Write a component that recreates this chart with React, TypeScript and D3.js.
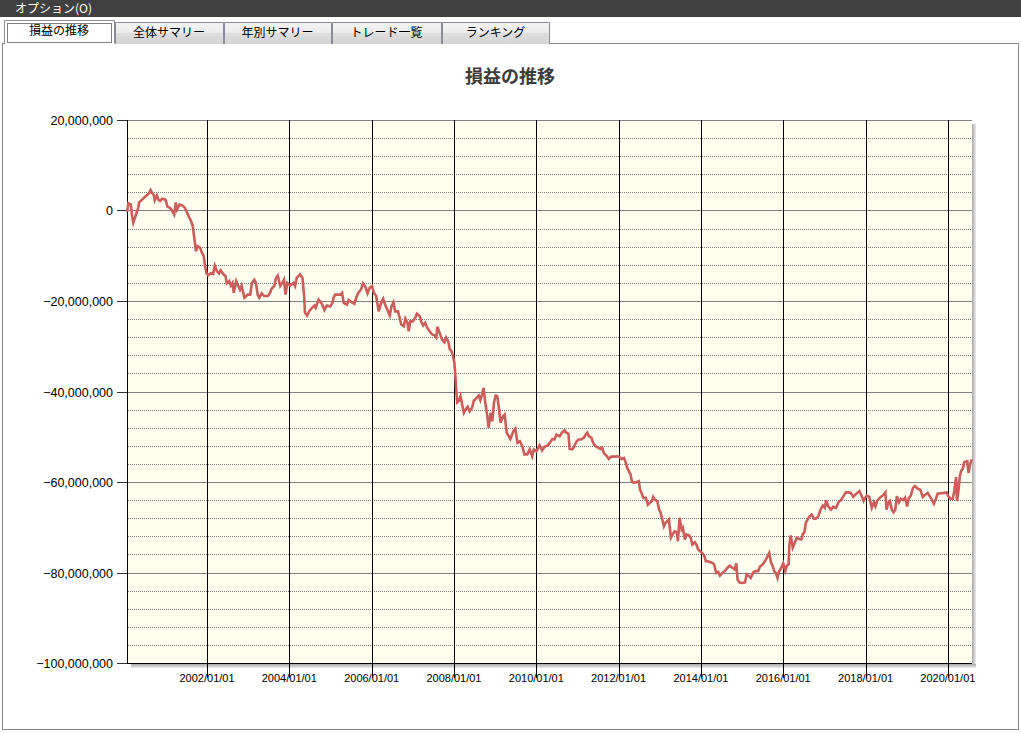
import * as d3 from 'd3';

const menuLabel = 'オプション(O)';
const tabLabels = ['損益の推移', '全体サマリー', '年別サマリー', 'トレード一覧', 'ランキング'];
const chartTitle = '損益の推移';

// y axis: yen, major every 20M, dotted minor every 4M
const yDomain = [-100000000, 20000000];
const yMajorStep = 20000000;
const yMinorStep = 4000000;

// x axis range in fractional years
const xFrom = 2000.057;
const xTo = 2020.585;

// [fractional year, cumulative P/L in millions of yen]
const pnl2000to2003: [number, number][] = [
  [2000.06, -0.3], [2000.09, 1.6], [2000.15, 1.3], [2000.18, -1.3], [2000.21, -2.7], [2000.25, -1.6], [2000.29, -0.5], [2000.33, 0.6], [2000.35, 1.8], [2000.41, 2.3],
  [2000.47, 2.8], [2000.53, 3.3], [2000.59, 3.8], [2000.63, 4.5], [2000.67, 3.8], [2000.71, 3.3], [2000.73, 2.3], [2000.78, 3.3], [2000.82, 2.4], [2000.86, 2.1],
  [2000.91, 2.6], [2000.99, 2.4], [2001.04, 0.8], [2001.1, 0.6], [2001.16, -0.2], [2001.2, -0.9], [2001.24, 1.8], [2001.27, 0.2], [2001.33, 1.3], [2001.4, 1.1],
  [2001.46, 0.6], [2001.51, -0.4], [2001.56, -1.4], [2001.6, -2.1], [2001.65, -3.3], [2001.68, -5.3], [2001.71, -7.5], [2001.73, -9.0], [2001.77, -7.9], [2001.83, -8.2],
  [2001.87, -9.2], [2001.92, -10.1], [2001.95, -12.3], [2001.99, -13.9], [2002.03, -14.3], [2002.1, -13.8], [2002.15, -14.0], [2002.19, -12.2], [2002.24, -13.4], [2002.29, -13.9],
  [2002.33, -13.2], [2002.4, -14.1], [2002.45, -14.5], [2002.48, -16.1], [2002.54, -15.6], [2002.58, -16.6], [2002.62, -16.0], [2002.65, -18.2], [2002.71, -15.6], [2002.76, -16.7],
  [2002.8, -17.5], [2002.84, -16.6], [2002.88, -18.2], [2002.91, -19.3], [2002.99, -18.6], [2003.05, -18.6], [2003.09, -16.1], [2003.15, -15.3], [2003.19, -16.0], [2003.23, -18.6],
  [2003.27, -19.3], [2003.33, -18.3], [2003.39, -18.9], [2003.48, -18.9], [2003.53, -18.2], [2003.57, -17.3], [2003.64, -16.6], [2003.67, -15.1], [2003.72, -14.4], [2003.78, -16.7],
  [2003.83, -16.0], [2003.87, -15.3], [2003.91, -18.6], [2003.95, -16.0],
];

const pnl2004to2007: [number, number][] = [
  [2004.02, -16.6], [2004.1, -16.0], [2004.14, -16.7], [2004.18, -14.9], [2004.26, -14.1], [2004.32, -14.9], [2004.36, -18.9], [2004.38, -22.6], [2004.43, -23.2], [2004.48, -22.3],
  [2004.55, -21.5], [2004.61, -21.0], [2004.64, -21.5], [2004.71, -19.7], [2004.79, -20.6], [2004.85, -22.0], [2004.91, -21.0], [2004.99, -21.2], [2005.05, -20.4], [2005.07, -19.3],
  [2005.11, -18.6], [2005.24, -18.6], [2005.28, -18.2], [2005.32, -20.4], [2005.4, -20.8], [2005.44, -19.8], [2005.52, -20.3], [2005.58, -20.6], [2005.63, -19.1], [2005.68, -18.1],
  [2005.74, -17.5], [2005.79, -16.1], [2005.84, -16.7], [2005.9, -18.3], [2005.95, -17.1], [2006.01, -16.7], [2006.05, -18.1], [2006.11, -18.9], [2006.17, -22.3], [2006.23, -20.4],
  [2006.28, -19.5], [2006.31, -20.4], [2006.37, -21.7], [2006.44, -23.2], [2006.48, -21.2], [2006.53, -20.3], [2006.57, -22.3], [2006.64, -22.3], [2006.68, -23.7], [2006.72, -25.2],
  [2006.78, -25.6], [2006.82, -23.9], [2006.87, -24.8], [2006.9, -26.7], [2006.94, -24.5], [2007.0, -24.5], [2007.06, -23.7], [2007.1, -22.8], [2007.17, -23.4], [2007.2, -24.5],
  [2007.25, -25.4], [2007.3, -24.8], [2007.35, -25.9], [2007.41, -26.7], [2007.47, -27.4], [2007.53, -27.6], [2007.57, -28.1], [2007.6, -25.7], [2007.65, -27.0], [2007.71, -28.5],
  [2007.77, -29.1], [2007.81, -28.1], [2007.86, -28.9], [2007.9, -30.7], [2007.94, -31.1], [2007.98, -32.2],
];

const pnl2008to2011: [number, number][] = [
  [2008.01, -33.7], [2008.03, -35.9], [2008.06, -40.3], [2008.08, -42.4], [2008.12, -42.1], [2008.16, -41.0], [2008.2, -42.9], [2008.24, -44.7], [2008.28, -44.0], [2008.33, -43.4],
  [2008.38, -44.4], [2008.44, -43.6], [2008.48, -42.1], [2008.55, -41.4], [2008.6, -40.9], [2008.64, -41.9], [2008.68, -40.7], [2008.72, -39.2], [2008.76, -42.5], [2008.81, -45.5],
  [2008.84, -48.0], [2008.89, -44.7], [2008.93, -46.6], [2008.97, -42.5], [2009.01, -40.9], [2009.05, -41.0], [2009.09, -43.6], [2009.13, -46.9], [2009.19, -45.5], [2009.23, -45.1],
  [2009.28, -49.1], [2009.33, -49.9], [2009.37, -50.5], [2009.44, -48.8], [2009.49, -48.2], [2009.54, -51.3], [2009.6, -51.0], [2009.66, -52.1], [2009.71, -53.9], [2009.78, -53.9],
  [2009.84, -52.8], [2009.9, -54.3], [2009.94, -52.8], [2010.0, -53.2], [2010.08, -51.9], [2010.14, -53.0], [2010.2, -52.2], [2010.28, -51.9], [2010.33, -51.3], [2010.39, -50.5],
  [2010.44, -50.6], [2010.49, -49.5], [2010.57, -49.9], [2010.63, -49.0], [2010.69, -48.6], [2010.73, -49.1], [2010.78, -49.3], [2010.81, -52.7], [2010.87, -52.8], [2010.91, -52.4],
  [2010.98, -51.0], [2011.03, -50.6], [2011.09, -50.6], [2011.16, -50.2], [2011.2, -49.5], [2011.24, -49.1], [2011.28, -49.9], [2011.34, -50.2], [2011.38, -51.3], [2011.44, -52.1],
  [2011.5, -52.4], [2011.56, -52.7], [2011.6, -52.4], [2011.64, -53.6], [2011.71, -54.2], [2011.76, -54.9], [2011.82, -54.4], [2011.89, -54.4], [2011.95, -54.3],
];

const pnl2012to2015: [number, number][] = [
  [2012.01, -54.4], [2012.07, -54.9], [2012.13, -54.7], [2012.17, -55.6], [2012.21, -56.9], [2012.25, -57.6], [2012.29, -58.3], [2012.32, -59.8], [2012.37, -60.2], [2012.44, -60.0],
  [2012.49, -59.8], [2012.52, -61.7], [2012.56, -62.5], [2012.6, -63.5], [2012.66, -63.5], [2012.71, -65.0], [2012.76, -64.6], [2012.81, -64.2], [2012.84, -63.3], [2012.88, -63.9],
  [2012.94, -64.2], [2012.98, -66.1], [2013.02, -66.8], [2013.06, -68.3], [2013.1, -69.8], [2013.14, -69.0], [2013.18, -68.7], [2013.22, -68.3], [2013.27, -72.3], [2013.31, -71.6],
  [2013.36, -70.9], [2013.41, -71.1], [2013.44, -73.1], [2013.48, -67.9], [2013.53, -70.5], [2013.56, -70.1], [2013.61, -72.7], [2013.65, -71.6], [2013.71, -71.8], [2013.75, -72.3],
  [2013.79, -73.8], [2013.85, -73.3], [2013.9, -74.0], [2013.93, -74.9], [2013.98, -75.3], [2014.03, -75.7], [2014.08, -76.3], [2014.12, -77.5], [2014.16, -77.5], [2014.22, -77.7],
  [2014.28, -77.9], [2014.32, -78.2], [2014.37, -80.1], [2014.42, -79.9], [2014.46, -80.7], [2014.52, -80.1], [2014.58, -79.7], [2014.64, -79.0], [2014.7, -78.5], [2014.77, -79.0],
  [2014.82, -79.3], [2014.86, -78.0], [2014.89, -81.6], [2014.94, -82.2], [2015.01, -82.3], [2015.07, -82.2], [2015.11, -80.4], [2015.17, -80.8], [2015.21, -81.2], [2015.28, -79.9],
  [2015.33, -79.7], [2015.39, -79.7], [2015.44, -78.6], [2015.47, -78.5], [2015.52, -78.0], [2015.58, -77.1], [2015.62, -76.4], [2015.66, -75.7], [2015.7, -77.7], [2015.74, -78.5],
  [2015.78, -79.7], [2015.82, -80.1], [2015.86, -81.2], [2015.9, -79.7], [2015.94, -79.2],
];

const pnl2016to2020: [number, number][] = [
  [2016.0, -78.0], [2016.05, -79.7], [2016.09, -78.5], [2016.13, -78.2], [2016.15, -73.8], [2016.18, -71.8], [2016.23, -74.5], [2016.28, -73.4], [2016.33, -72.3], [2016.39, -72.6],
  [2016.44, -72.7], [2016.48, -71.4], [2016.51, -71.2], [2016.55, -69.0], [2016.59, -68.3], [2016.63, -67.7], [2016.69, -67.2], [2016.74, -68.1], [2016.79, -68.1], [2016.85, -67.6],
  [2016.9, -66.2], [2016.96, -65.2], [2017.01, -65.7], [2017.04, -64.0], [2017.09, -65.4], [2017.16, -66.1], [2017.21, -65.5], [2017.28, -65.7], [2017.34, -64.5], [2017.4, -64.0],
  [2017.47, -63.0], [2017.52, -62.3], [2017.58, -62.3], [2017.64, -62.4], [2017.7, -63.3], [2017.75, -62.8], [2017.81, -62.3], [2017.85, -62.0], [2017.9, -63.0], [2017.95, -64.2],
  [2017.99, -63.5], [2018.03, -63.0], [2018.09, -63.3], [2018.15, -65.7], [2018.2, -64.5], [2018.24, -65.4], [2018.28, -64.2], [2018.33, -63.7], [2018.37, -63.3], [2018.44, -62.8],
  [2018.48, -62.3], [2018.51, -66.1], [2018.55, -64.6], [2018.59, -64.2], [2018.64, -66.2], [2018.68, -66.7], [2018.72, -66.2], [2018.76, -63.1], [2018.81, -64.5], [2018.86, -63.7],
  [2018.92, -64.0], [2018.96, -63.5], [2019.01, -65.4], [2019.05, -63.5], [2019.1, -63.0], [2019.15, -61.3], [2019.2, -60.9], [2019.27, -61.5], [2019.33, -61.7], [2019.39, -63.3],
  [2019.45, -62.8], [2019.51, -62.4], [2019.55, -63.0], [2019.61, -63.9], [2019.66, -64.8], [2019.71, -63.7], [2019.75, -62.6], [2019.83, -62.5], [2019.91, -62.4], [2019.97, -62.3],
  [2020.01, -63.1], [2020.06, -63.7], [2020.12, -63.7], [2020.16, -61.7], [2020.2, -58.9], [2020.22, -64.2], [2020.26, -61.7], [2020.29, -58.7], [2020.32, -57.6], [2020.36, -57.1],
  [2020.4, -55.6], [2020.47, -55.4], [2020.5, -58.0], [2020.54, -56.1], [2020.58, -55.0],
];

const pnlSeries = [...pnl2000to2003, ...pnl2004to2007, ...pnl2008to2011, ...pnl2012to2015, ...pnl2016to2020];

// fractional year -> Date
function yearToDate(t: number) {
  const y = Math.floor(t);
  const start = new Date(y, 0, 1).getTime();
  const end = new Date(y + 1, 0, 1).getTime();
  return new Date(start + (t - y) * (end - start));
}

const uiFont = '"Noto Sans CJK JP", "Noto Sans", sans-serif';
const numFont = '"Liberation Sans", Arial, sans-serif';

export default function App() {
  const W = 1021;
  const H = 734;
  const plot = { left: 127, right: 972, top: 120, bottom: 663 };

  const x = d3
    .scaleTime()
    .domain([yearToDate(xFrom), yearToDate(xTo)])
    .range([plot.left, plot.right]);

  const y = d3.scaleLinear().domain(yDomain).range([plot.bottom, plot.top]);

  const px = (v: number) => Math.round(v) + 0.5;

  const majorTicks = d3.range(yDomain[0], yDomain[1] + 1, yMajorStep);
  const minorTicks = d3
    .range(yDomain[0], yDomain[1] + 1, yMinorStep)
    .filter(v => v % yMajorStep !== 0);
  const xTicks = x.ticks(d3.timeYear.every(2)!).filter(d => d > yearToDate(xFrom));
  const fmtX = d3.timeFormat('%Y/%m/%d');
  const fmtY = d3.format(',');

  const line = d3
    .line<[number, number]>()
    .x(d => x(yearToDate(d[0])))
    .y(d => y(d[1] * 1000000));

  // tab edges
  const tabX = [4, 115, 224, 332, 442, 550];

  return (
    <svg
      width={W}
      height={H}
      style={{ position: 'absolute', left: 0, top: 0, display: 'block', background: '#fff' }}
    >
      <defs>
        <linearGradient id="tabGrad" x1="0" y1="0" x2="0" y2="1">
          <stop offset="0" stopColor="#f4f4f4" />
          <stop offset="0.5" stopColor="#ebebeb" />
          <stop offset="0.5" stopColor="#dedede" />
          <stop offset="1" stopColor="#d4d4d4" />
        </linearGradient>
        <linearGradient id="shadowR" x1="0" y1="0" x2="1" y2="0">
          <stop offset="0" stopColor="#a8a8a8" />
          <stop offset="1" stopColor="#ececec" />
        </linearGradient>
        <linearGradient id="shadowB" x1="0" y1="0" x2="0" y2="1">
          <stop offset="0" stopColor="#a8a8a8" />
          <stop offset="1" stopColor="#ececec" />
        </linearGradient>
      </defs>

      {/* menu bar */}
      <rect x={0} y={0} width={W} height={17} fill="#404040" />
      <text x={15} y={13} fill="#ffffff" fontSize={12} fontFamily={uiFont}>
        {menuLabel}
      </text>

      {/* panel */}
      <rect x={2.5} y={43.5} width={1016} height={686} fill="#fff" stroke="#828790" />

      {/* tabs */}
      {tabLabels.map((label, i) => {
        const x0 = tabX[i];
        const x1 = tabX[i + 1] - 1;
        const selected = i === 0;
        const top = selected ? 20 : 22;
        return (
          <g key={label}>
            <path
              d={`M${x0 + 0.5},44 V${top + 0.5} H${x1 + 0.5} V44`}
              fill={selected ? '#ffffff' : 'url(#tabGrad)'}
              stroke="#898c95"
            />
            {selected && (
              <>
                <rect x={x0 + 1} y={43} width={x1 - x0} height={2} fill="#fff" />
                <rect
                  x={x0 + 3.5}
                  y={top + 3.5}
                  width={x1 - x0 - 6}
                  height={19}
                  fill="none"
                  stroke="#000"
                  strokeDasharray="1 1"
                />
              </>
            )}
            <text
              x={(x0 + x1) / 2}
              y={top + 15}
              textAnchor="middle"
              fontSize={12}
              fontFamily={uiFont}
              fill="#000"
            >
              {label}
            </text>
          </g>
        );
      })}

      {/* title */}
      <text
        x={510}
        y={83}
        textAnchor="middle"
        fontSize={18}
        fontWeight="bold"
        fontFamily={uiFont}
        fill="#3c3c3c"
      >
        {chartTitle}
      </text>

      {/* plot shadow */}
      <rect x={plot.right} y={plot.top + 4} width={4} height={plot.bottom - plot.top} fill="url(#shadowR)" />
      <rect x={plot.left + 4} y={plot.bottom + 1} width={plot.right - plot.left} height={4} fill="url(#shadowB)" />

      {/* plot background */}
      <rect
        x={plot.left}
        y={plot.top}
        width={plot.right - plot.left}
        height={plot.bottom - plot.top}
        fill="#fffff0"
      />

      {/* minor grid */}
      {minorTicks.map(v => (
        <line
          key={`mi${v}`}
          x1={plot.left + 1}
          x2={plot.right - 1}
          y1={px(y(v))}
          y2={px(y(v))}
          stroke="#7a7a7a"
          strokeDasharray="1 1"
        />
      ))}

      {/* major grid */}
      {majorTicks.map(v => (
        <line
          key={`ma${v}`}
          x1={plot.left}
          x2={plot.right}
          y1={px(y(v))}
          y2={px(y(v))}
          stroke="#808080"
        />
      ))}

      {/* vertical date lines */}
      {xTicks.map(d => (
        <line
          key={`vx${d.getTime()}`}
          x1={px(x(d))}
          x2={px(x(d))}
          y1={plot.top}
          y2={plot.bottom + 15}
          stroke="#000"
        />
      ))}

      {/* axes */}
      <line x1={px(plot.left)} x2={px(plot.left)} y1={plot.top} y2={plot.bottom + 1} stroke="#000" />
      <line x1={plot.left} x2={plot.right} y1={px(plot.bottom)} y2={px(plot.bottom)} stroke="#000" />

      {/* y ticks and labels */}
      {majorTicks.map(v => (
        <g key={`yl${v}`}>
          <line x1={117} x2={plot.left} y1={px(y(v))} y2={px(y(v))} stroke="#333" />
          <text
            x={113}
            y={Math.round(y(v)) + 5}
            textAnchor="end"
            fontSize={12.5}
            fontFamily={numFont}
            fill="#000"
          >
            {fmtY(v)}
          </text>
        </g>
      ))}

      {/* x labels */}
      {xTicks.map(d => (
        <text
          key={`xl${d.getTime()}`}
          x={x(d)}
          y={682}
          textAnchor="middle"
          fontSize={11}
          fontFamily={numFont}
          fill="#000"
        >
          {fmtX(d)}
        </text>
      ))}

      {/* P/L line */}
      <path
        d={line(pnlSeries) ?? ''}
        fill="none"
        stroke="#cd5c5c"
        strokeWidth={2.6}
        strokeLinejoin="miter"
      />
    </svg>
  );
}
